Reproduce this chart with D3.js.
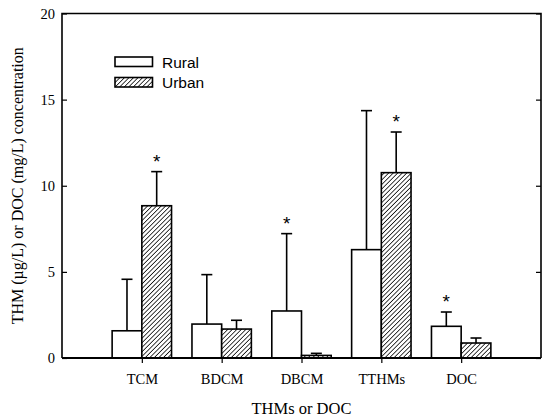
<!DOCTYPE html>
<html>
<head>
<meta charset="utf-8">
<script src="https://cdn.jsdelivr.net/npm/d3@7"></script>
<style>
  body { margin: 0; background: #fff; }
  svg { display: block; }
</style>
</head>
<body>
<svg id="chart"></svg>
<script>
// values
let categories = ["TCM", "BDCM", "DBCM", "TTHMs", "DOC"];
let ruralMean = [1.58, 1.97, 2.73, 6.29, 1.84];
let ruralErr  = [2.99, 2.87, 4.49, 8.07, 0.83];
let urbanMean = [8.84, 1.68, 0.15, 10.76, 0.87];
let urbanErr  = [1.98, 0.51, 0.12, 2.36, 0.29];
// significance stars: which bar gets one
let ruralStar = [false, false, true, false, true];
let urbanStar = [true, false, false, true, false];
let yTicks = [0, 5, 10, 15, 20];

let width = 542, height = 420;
let margin = {top: 13.5, right: 1, bottom: 62, left: 62};

let svg = d3.select("#chart").attr("width", width).attr("height", height);

let defs = svg.append("defs");
let pat = defs.append("pattern")
  .attr("id", "hatch")
  .attr("patternUnits", "userSpaceOnUse")
  .attr("width", 3.2).attr("height", 3.2)
  .attr("patternTransform", "rotate(45)");
pat.append("rect").attr("width", 3.2).attr("height", 3.2).attr("fill", "#fff");
pat.append("line")
  .attr("x1", 0).attr("y1", 0).attr("x2", 0).attr("y2", 3.2)
  .attr("stroke", "#000").attr("stroke-width", 1.5);

let x = d3.scalePoint()
  .domain(categories)
  .range([margin.left, width - margin.right])
  .padding(1);
let y = d3.scaleLinear()
  .domain([0, 20])
  .range([height - margin.bottom - 0, margin.top]);

let barW = 29.7;
let x0 = margin.left, x1 = width - margin.right;
let y0 = y(0), y1 = y(20);

let rows = categories.map((c, i) => [
  {cat: c, kind: "rural", v: ruralMean[i], e: ruralErr[i], star: ruralStar[i], off: -barW},
  {cat: c, kind: "urban", v: urbanMean[i], e: urbanErr[i], star: urbanStar[i], off: 0}
]).flat();

let g = svg.append("g");

// error bars (upward only)
g.selectAll("line.err")
  .data(rows)
  .join("line")
  .attr("class", "err")
  .attr("x1", d => x(d.cat) + d.off + barW / 2)
  .attr("x2", d => x(d.cat) + d.off + barW / 2)
  .attr("y1", d => y(d.v))
  .attr("y2", d => y(d.v + d.e))
  .attr("stroke", "#000").attr("stroke-width", 1.6);
g.selectAll("line.cap")
  .data(rows)
  .join("line")
  .attr("class", "cap")
  .attr("x1", d => x(d.cat) + d.off + barW / 2 - 5.5)
  .attr("x2", d => x(d.cat) + d.off + barW / 2 + 5.5)
  .attr("y1", d => y(d.v + d.e))
  .attr("y2", d => y(d.v + d.e))
  .attr("stroke", "#000").attr("stroke-width", 1.6);

// bars
g.selectAll("rect.bar")
  .data(rows)
  .join("rect")
  .attr("class", "bar")
  .attr("x", d => x(d.cat) + d.off)
  .attr("y", d => y(d.v))
  .attr("width", barW)
  .attr("height", d => y(0) - y(d.v))
  .attr("fill", d => d.kind == "rural" ? "#fff" : "url(#hatch)")
  .attr("stroke", "#000").attr("stroke-width", 1.6);

// stars
g.selectAll("text.star")
  .data(rows.filter(d => d.star))
  .join("text")
  .attr("class", "star")
  .attr("x", d => x(d.cat) + d.off + barW / 2)
  .attr("y", d => y(d.v + d.e) - 4)
  .attr("text-anchor", "middle")
  .attr("font-family", "Liberation Sans, Arial, sans-serif")
  .attr("font-size", 19)
  .text("*");

// frame
let frame = svg.append("g").attr("stroke", "#000").attr("stroke-width", 1.6).attr("fill", "none");
frame.append("path").attr("d", `M${x0},${y0}V${y1}H${x1}V${y0}`);
frame.append("line").attr("x1", x0).attr("x2", x1).attr("y1", y0).attr("y2", y0).attr("stroke-width", 2);

// y axis, ticks inside
let yAxis = svg.append("g")
  .attr("transform", `translate(${x0},0)`)
  .call(d3.axisRight(y).tickValues(yTicks).tickSize(5).tickFormat(d3.format("d")));
yAxis.select(".domain").remove();
yAxis.selectAll("line").attr("stroke-width", 1.2);
yAxis.selectAll("text")
  .attr("x", -7).attr("text-anchor", "end")
  .attr("font-family", "Liberation Serif, Times New Roman, serif")
  .attr("font-size", 14.5).attr("fill", "#000");

// right side ticks, inside
let yRight = svg.append("g")
  .attr("transform", `translate(${x1},0)`)
  .call(d3.axisLeft(y).tickValues(yTicks).tickSize(5).tickFormat(""));
yRight.select(".domain").remove();
yRight.selectAll("line").attr("stroke-width", 1.2);

// x axis
let xAxis = svg.append("g")
  .attr("transform", `translate(0,${y0})`)
  .call(d3.axisBottom(x).tickSize(5).tickPadding(11));
xAxis.select(".domain").remove();
xAxis.selectAll("line").attr("stroke-width", 1.2);
xAxis.selectAll("text")
  .attr("font-family", "Liberation Serif, Times New Roman, serif")
  .attr("font-size", 14.5).attr("fill", "#000");

// axis titles
svg.append("text")
  .attr("x", (x0 + x1) / 2 - 0)
  .attr("y", 414)
  .attr("text-anchor", "middle")
  .attr("font-family", "Liberation Serif, Times New Roman, serif")
  .attr("font-size", 16.5)
  .text("THMs or DOC");

svg.append("text")
  .attr("transform", `translate(23,${(y0 + y1) / 2}) rotate(-90)`)
  .attr("text-anchor", "middle")
  .attr("font-family", "Liberation Serif, Times New Roman, serif")
  .attr("font-size", 16)
  .text("THM (\u00b5g/L) or DOC (mg/L) concentration");

// legend
let legend = svg.append("g").attr("transform", "translate(115,57)");
let legItems = [{label: "Rural", fill: "#fff"}, {label: "Urban", fill: "url(#hatch)"}];
legItems.forEach((d, i) => {
  let row = legend.append("g").attr("transform", `translate(0,${i * 20.5})`);
  row.append("rect")
    .attr("width", 37.5).attr("height", 9.5)
    .attr("fill", d.fill).attr("stroke", "#000").attr("stroke-width", 1.6);
  row.append("text")
    .attr("x", 47).attr("y", 10.5)
    .attr("font-family", "Liberation Sans, Arial, sans-serif")
    .attr("font-size", 15.5)
    .text(d.label);
});
</script>
</body>
</html>
